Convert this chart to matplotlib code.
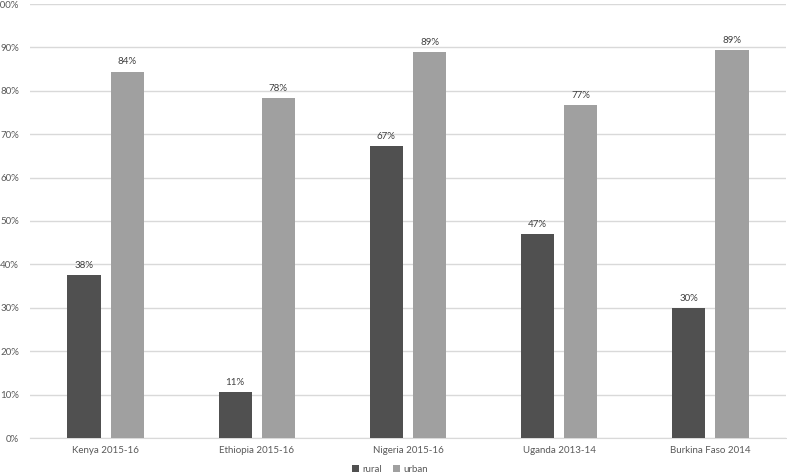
import numpy as np
import matplotlib
matplotlib.use("Agg")
import matplotlib.pyplot as plt

countries = ["Kenya 2015-16", "Ethiopia 2015-16", "Nigeria 2015-16",
             "Uganda 2013-14", "Burkina Faso 2014"]
rural = [37.6, 10.6, 67.2, 47.0, 30.0]
urban = [84.4, 78.4, 88.9, 76.7, 89.3]

plt.rcParams["font.family"] = ["Lato", "DejaVu Sans"]
text_color = "#595959"

fig = plt.figure(figsize=(7.87, 4.76), dpi=100)
ax = fig.add_axes([30 / 787, 38 / 476, 756 / 787, 434 / 476])

x = np.arange(len(countries))
w = 0.22
gap = 0.066
b1 = ax.bar(x - (w + gap) / 2, rural, w, color="#505050", label="rural", zorder=3)
b2 = ax.bar(x + (w + gap) / 2, urban, w, color="#a0a0a0", label="urban", zorder=3)

for bars, vals in ((b1, rural), (b2, urban)):
    for bar, v in zip(bars, vals):
        ax.text(bar.get_x() + bar.get_width() / 2, v + 1.2, f"{round(v)}%",
                ha="center", va="bottom", fontsize=7, color="#404040")

ax.set_xlim(-0.5, len(countries) - 0.5)
ax.set_ylim(0, 100)
ax.set_yticks(range(0, 101, 10))
ax.set_yticklabels([f"{t}%" for t in range(0, 101, 10)])
ax.set_xticks(x)
ax.set_xticklabels(countries)
ax.tick_params(axis="both", length=0, labelsize=7, colors=text_color)
ax.tick_params(axis="y", pad=8)
ax.tick_params(axis="x", pad=6)
ax.grid(axis="y", color="#d9d9d9", linewidth=1, zorder=0)
for s in ["top", "right", "left"]:
    ax.spines[s].set_visible(False)
ax.spines["bottom"].set_color("#d9d9d9")

fig.legend(handles=[b1, b2], loc="center", bbox_to_anchor=(390 / 787, 1 - 469 / 476),
           ncol=2, frameon=False, fontsize=7, labelcolor=text_color,
           handlelength=0.7, handleheight=0.7, handletextpad=0.3, columnspacing=1.2)

fig.savefig("out.png", dpi=100)
